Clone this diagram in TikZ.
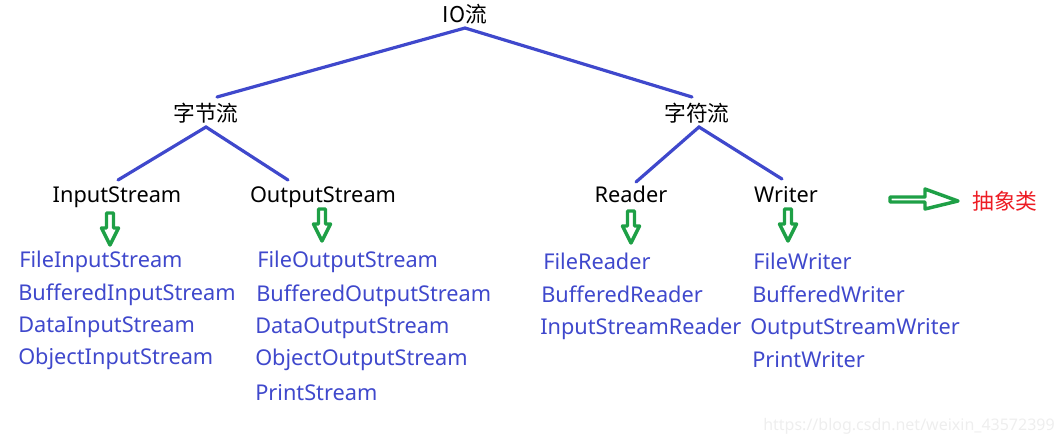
\documentclass[tikz,border=0pt]{standalone}
\usepackage{fontspec}
\setmainfont{Noto Sans}
\newfontfamily\cjk{Noto Sans CJK SC}
\definecolor{lineblue}{RGB}{63,72,204}
\definecolor{txtblue}{RGB}{63,72,204}
\definecolor{arrgreen}{RGB}{30,160,70}
\definecolor{absred}{RGB}{237,28,36}
\definecolor{wmgray}{RGB}{238,238,238}
\begin{document}
\begin{tikzpicture}[x=0.75pt,y=-0.75pt,
  lbl/.style={inner sep=0pt,font=\fontsize{16.3}{18}\selectfont},
  cjklbl/.style={inner sep=0pt,font=\cjk\fontsize{16.3}{18}\selectfont},
  item/.style={inner sep=0pt,anchor=base west,text=txtblue,font=\fontsize{16.3}{18}\selectfont},
  branch/.style={draw=lineblue,line width=2.4pt,line cap=round},
  hollow/.style={draw=arrgreen,line width=2.6pt,line join=round,fill=white}]
\useasboundingbox (0,0) rectangle (1064,444);
% top level
\node[cjklbl] (io) at (465,14) {IO流};
\node[cjklbl] (zj) at (206,113) {字节流};
\node[cjklbl] (zf) at (697,113) {字符流};
\node[lbl,anchor=base] (in) at (117,202) {InputStream};
\node[lbl,anchor=base] (out) at (323,202) {OutputStream};
\node[lbl,anchor=base] (rd) at (631,202) {Reader};
\node[lbl,anchor=base] (wr) at (786,202) {Writer};
% connector end points
\coordinate (ioB) at (465,28);
\coordinate (zjT) at (217,97);
\coordinate (zfT) at (692,97);
\coordinate (zjB) at (206,127);
\coordinate (zfB) at (699,127);
\coordinate (inT) at (118,180);
\coordinate (outT) at (288,180);
\coordinate (rdT) at (636,182);
\coordinate (wrT) at (782,179);
\draw[branch] (zjT) -- (ioB) -- (zfT);
\draw[branch] (inT) -- (zjB) -- (outT);
\draw[branch] (rdT) -- (zfB) -- (wrT);
% hollow down arrows
\foreach \n/\x/\y in {a1/110/213,a2/322/209,a3/631/211,a4/788/209}{
  \draw[hollow] (\x-3.5,\y) -- (\x+3.5,\y) -- (\x+3.5,\y+15) -- (\x+8.5,\y+15)
     -- (\x,\y+32) -- (\x-8.5,\y+15) -- (\x-3.5,\y+15) -- cycle;
}
% legend arrow
\draw[hollow] (890,197) -- (925,197) -- (925,189) -- (958,201) -- (925,209)
   -- (925,202) -- (890,202) -- cycle;
\node[cjklbl,text=absred] (abs) at (1005,201) {抽象类};
% lists
\node[item] (c1a) at (19,267) {FileInputStream};
\node[item] (c1b) at (18,300) {BufferedInputStream};
\node[item] (c1c) at (18,332) {DataInputStream};
\node[item] (c1d) at (18,364) {ObjectInputStream};
\node[item] (c2a) at (257,267) {FileOutputStream};
\node[item] (c2b) at (256,301) {BufferedOutputStream};
\node[item] (c2c) at (255,333) {DataOutputStream};
\node[item] (c2d) at (255,365) {ObjectOutputStream};
\node[item] (c2e) at (255,400) {PrintStream};
\node[item] (c3a) at (543,269) {FileReader};
\node[item] (c3b) at (541,302) {BufferedReader};
\node[item] (c3c) at (540,334) {InputStreamReader};
\node[item] (c4a) at (753,269) {FileWriter};
\node[item] (c4b) at (752,302) {BufferedWriter};
\node[item] (c4c) at (750,334) {OutputStreamWriter};
\node[item] (c4d) at (752,367) {PrintWriter};
\node[inner sep=0pt,anchor=base east,text=wmgray,font=\fontsize{12}{14}\selectfont] (wm) at (1055,430) {https://blog.csdn.net/weixin\_43572399};
\end{tikzpicture}
\end{document}
